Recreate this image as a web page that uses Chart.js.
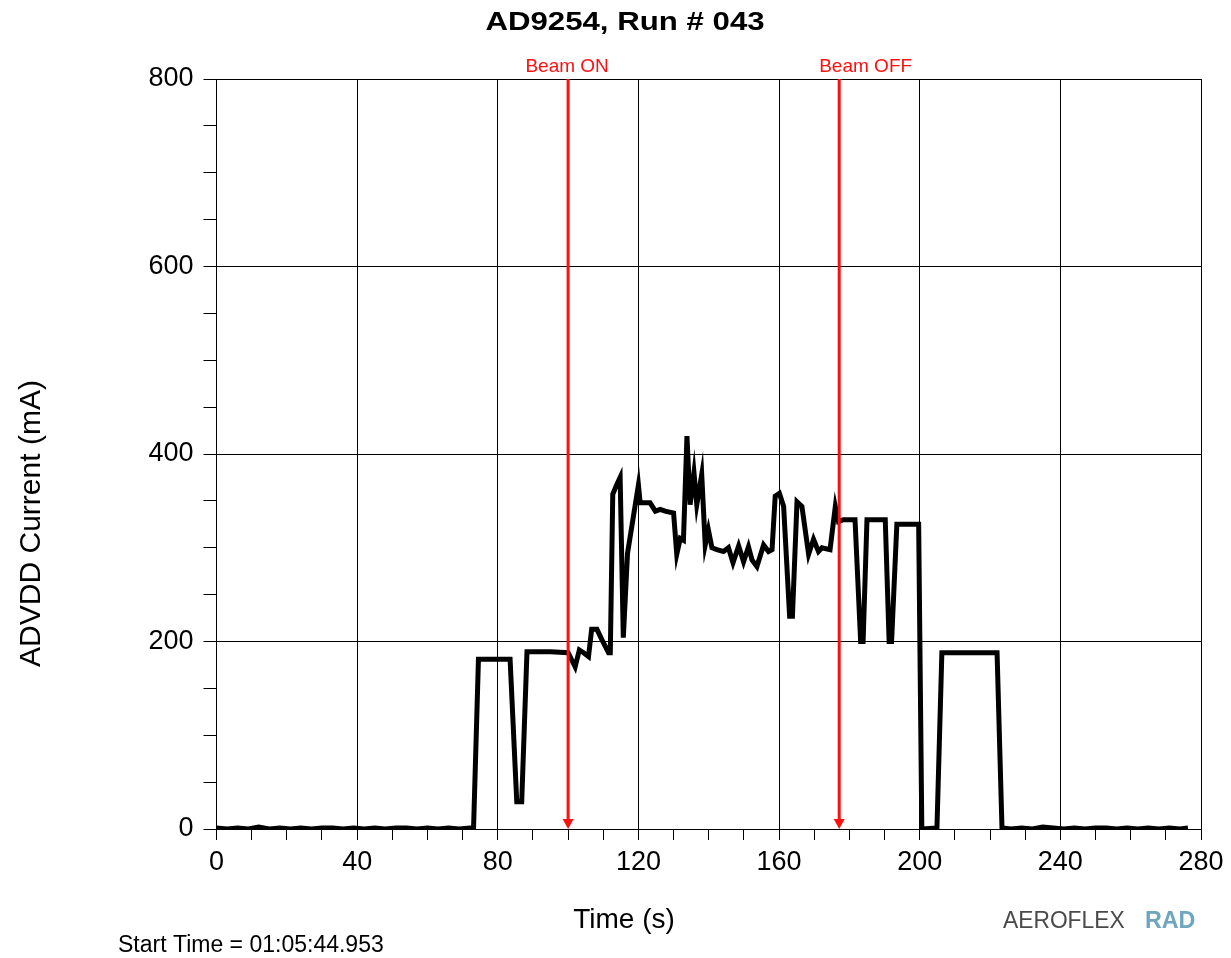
<!DOCTYPE html>
<html>
<head>
<meta charset="utf-8">
<script src="https://cdn.jsdelivr.net/npm/chart.js@4.4.1/dist/chart.umd.min.js"></script>
<style>
  html, body { margin: 0; padding: 0; background: #fff; }
  #wrap { width: 1231px; height: 958px; position: relative; }
</style>
</head>
<body>
<div id="wrap"><canvas id="c"></canvas></div>
<script>
// ---- data ----
const chartTitle = 'AD9254, Run # 043';
const yTitle = 'ADVDD Current (mA)';
const xTitle = 'Time (s)';
const startTimeText = 'Start Time = 01:05:44.953';

const times = [
  0, 3, 6, 9, 12, 15, 18, 21, 24, 27, 30, 33, 36, 39, 42, 45, 48, 51, 54, 57, 60, 63, 66, 69, 72, 73.1,
  74.5, 80, 83.5, 85.4, 86.8, 88.3, 95, 100,
  102.0, 103.2, 104.4, 105.8, 106.7, 108.2, 109.6, 111.5, 112.0, 112.7, 113.7, 114.8, 115.7, 116.9,
  120.0, 120.5, 123.3, 124.8, 126.2, 127.6, 130.0, 130.9, 131.9, 132.8, 133.8, 134.7, 135.8, 136.6,
  138.0, 139.0, 139.9, 140.9, 142.3, 144.2, 145.6, 146.9, 148.5, 149.9, 151.3, 152.3, 153.7, 155.6,
  157.0, 158.0, 158.9, 160.1, 161.3, 163.0, 163.8, 165.1, 166.5, 168.4, 169.8, 171.2, 172.2, 174.5,
  176.0, 176.9, 178.3, 181.6, 183.2, 183.9, 185.0, 190.2, 191.3, 192.0, 193.5, 199.7,
  200.6, 204.9, 206.3, 222.0, 223.4,
  226, 229, 232, 235, 238, 241, 244, 247, 250, 253, 256, 259, 262, 265, 268, 271, 274, 276.3
];
const currents = [
  1, 0, 1, 0, 2, 0, 1, 0, 1, 0, 1, 1, 0, 1, 0, 1, 0, 1, 1, 0, 1, 0, 1, 0, 1, 0,
  181, 181, 181, 29, 29, 189, 189, 188,
  173, 191, 188, 184, 213, 213, 202, 188, 188, 357, 366, 375, 204, 294,
  367, 348, 348, 339, 341, 339, 337, 293, 310, 308, 419, 346, 380, 346,
  378, 303, 319, 300, 298, 296, 300, 284, 302, 285, 301, 287, 280, 303,
  296, 298, 355, 358, 344, 227, 227, 349, 344, 293, 309, 296, 300, 298,
  344, 328, 330, 330, 200, 200, 330, 330, 200, 200, 325, 325,
  0, 1, 188, 188, 1,
  0, 1, 0, 2, 1, 0, 1, 0, 1, 1, 0, 1, 0, 1, 0, 1, 0, 1
];

const xMajorTicks = [0, 40, 80, 120, 160, 200, 240, 280];
const yMajorTicks = [0, 200, 400, 600, 800];

const beamTimes = [100, 177.1];
const beamLabels = ['Beam ON', 'Beam OFF'];

// ---- drawing helpers ----
function drawText(ctx, text, x, y, font, color, align, sx, rot) {
  ctx.save();
  ctx.translate(x, y);
  if (rot) ctx.rotate(rot);
  ctx.scale(sx || 1, 1);
  ctx.font = font;
  ctx.fillStyle = color;
  ctx.textAlign = align || 'left';
  ctx.textBaseline = 'alphabetic';
  ctx.fillText(text, 0, 0);
  ctx.restore();
}

const decorations = {
  id: 'decorations',
  afterDatasetsDraw(chart) {
    const ctx = chart.ctx;
    const xs = chart.scales.x;
    const top = chart.chartArea.top, bottom = chart.chartArea.bottom;
    beamTimes.forEach((t, i) => {
      const px = xs.getPixelForValue(t);
      ctx.save();
      ctx.strokeStyle = '#ff1010';
      ctx.lineWidth = 3;
      ctx.beginPath();
      ctx.moveTo(px, top);
      ctx.lineTo(px, bottom - 8);
      ctx.stroke();
      ctx.fillStyle = '#ff1010';
      ctx.beginPath();
      ctx.moveTo(px - 5.5, bottom - 10);
      ctx.lineTo(px + 5.5, bottom - 10);
      ctx.lineTo(px, bottom);
      ctx.closePath();
      ctx.fill();
      ctx.restore();
      const lf = '19px "Liberation Sans", Arial, sans-serif';
      if (i === 0) {
        drawText(ctx, beamLabels[i], px - 1, 72, lf, '#ff1010', 'center', 1);
      } else {
        drawText(ctx, beamLabels[i], px - 20, 72, lf, '#ff1010', 'left', 1);
      }
    });
  },
  afterDraw(chart) {
    const ctx = chart.ctx;
    drawText(ctx, chartTitle, 625, 30, 'bold 26px "Liberation Sans", Arial, sans-serif', '#000', 'center', 1.2);
    ctx.save();
    ctx.translate(40, 523.5);
    ctx.rotate(-Math.PI / 2);
    ctx.scale(1.035, 1);
    ctx.font = '29px "Liberation Sans", Arial, sans-serif';
    ctx.fillStyle = '#000';
    ctx.textAlign = 'center';
    ctx.textBaseline = 'alphabetic';
    ctx.fillText(yTitle, 0, 0);
    ctx.restore();
    drawText(ctx, xTitle, 624, 928, '28px "Liberation Sans", Arial, sans-serif', '#000', 'center', 1);
    drawText(ctx, startTimeText, 118, 952, '23px "Liberation Sans", Arial, sans-serif', '#000', 'left', 1);
    drawText(ctx, 'AEROFLEX', 1003, 928, '24px "Liberation Sans", Arial, sans-serif', '#4a4a4a', 'left', 0.95);
    drawText(ctx, 'RAD', 1145, 928, 'bold 24px "Liberation Sans", Arial, sans-serif', '#6ea6bd', 'left', 0.97);
  }
};

const tickFont = { family: '"Liberation Sans", Arial, sans-serif', size: 27 };

new Chart(document.getElementById('c'), {
  type: 'line',
  data: {
    datasets: [{
      data: times.map((t, i) => ({ x: t, y: currents[i] })),
      borderColor: '#000',
      borderWidth: 5,
      pointRadius: 0,
      tension: 0,
      fill: false
    }]
  },
  options: {
    responsive: true,
    maintainAspectRatio: false,
    animation: false,
    devicePixelRatio: 1,
    layout: { padding: { top: 79, right: 30, left: 0, bottom: 0 } },
    plugins: { legend: { display: false }, title: { display: false }, tooltip: { enabled: false } },
    scales: {
      x: {
        type: 'linear',
        min: 0, max: 280,
        afterFit(s) { s.height = 129; },
        afterBuildTicks(s) { s.ticks = []; for (let v = 0; v <= 280; v += 10) s.ticks.push({ value: v }); },
        ticks: {
          autoSkip: false,
          maxRotation: 0,
          padding: 6,
          color: '#000',
          font: tickFont,
          callback: (v) => xMajorTicks.includes(v) ? String(v) : ''
        },
        grid: {
          color: (c) => (c.tick && xMajorTicks.includes(c.tick.value)) ? '#000' : 'rgba(0,0,0,0)',
          tickColor: '#000',
          tickLength: 11,
          lineWidth: 1
        },
        border: { color: '#000', width: 1 }
      },
      y: {
        type: 'linear',
        min: 0, max: 800,
        afterFit(s) { s.width = 216.5; },
        afterBuildTicks(s) { s.ticks = []; for (let v = 0; v <= 800; v += 50) s.ticks.push({ value: v }); },
        ticks: {
          autoSkip: false,
          padding: 10,
          color: '#000',
          font: tickFont,
          callback: (v) => yMajorTicks.includes(v) ? String(v) : ''
        },
        grid: {
          color: (c) => (c.tick && yMajorTicks.includes(c.tick.value)) ? '#000' : 'rgba(0,0,0,0)',
          tickColor: '#000',
          tickLength: 13,
          lineWidth: 1
        },
        border: { color: '#000', width: 1 }
      }
    }
  },
  plugins: [decorations]
});
</script>
</body>
</html>
